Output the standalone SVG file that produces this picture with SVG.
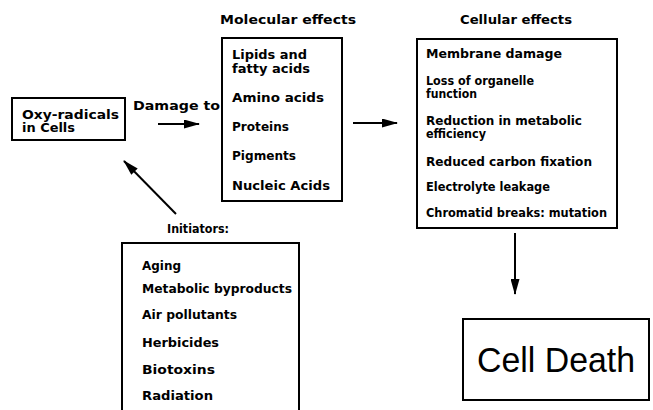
<svg xmlns="http://www.w3.org/2000/svg" width="653" height="410" viewBox="0 0 653 410">
<style>
.box{fill:none;stroke:#000;stroke-width:2}
.t{font-family:"DejaVu Sans","Liberation Sans",sans-serif;font-weight:bold;font-size:11.5px;fill:#000}
.big{font-family:"Liberation Sans",Arial,sans-serif;font-size:35px;fill:#000}
.arr{stroke:#000;stroke-width:2;fill:none;marker-end:url(#ah)}
</style>
<defs>
<marker id="ah" viewBox="0 0 16 9" refX="15" refY="4.5" markerWidth="8" markerHeight="4.5" orient="auto" markerUnits="strokeWidth">
<path d="M0,0 L16,4.5 L0,9 Z" fill="#000"/>
</marker>
</defs>
<rect width="653" height="410" fill="#fff"/>
<g id="oxy">
<rect class="box" x="12" y="98" width="113" height="42"/>
<text class="t" x="22" y="119" textLength="97" lengthAdjust="spacingAndGlyphs">Oxy-radicals</text>
<text class="t" x="22" y="132" textLength="53" lengthAdjust="spacingAndGlyphs">in Cells</text>
</g>
<g id="molecular">
<text class="t" x="220" y="24" textLength="136" lengthAdjust="spacingAndGlyphs">Molecular effects</text>
<rect class="box" x="222" y="38" width="120" height="163"/>
<text class="t" x="232" y="59" textLength="75" lengthAdjust="spacingAndGlyphs">Lipids and</text>
<text class="t" x="232" y="72.5" textLength="78" lengthAdjust="spacingAndGlyphs">fatty acids</text>
<text class="t" x="232" y="102" textLength="92" lengthAdjust="spacingAndGlyphs">Amino acids</text>
<text class="t" x="232" y="131" textLength="57" lengthAdjust="spacingAndGlyphs">Proteins</text>
<text class="t" x="232" y="160" textLength="64" lengthAdjust="spacingAndGlyphs">Pigments</text>
<text class="t" x="232" y="190" textLength="98" lengthAdjust="spacingAndGlyphs">Nucleic Acids</text>
</g>
<g id="cellular">
<text class="t" x="460" y="24" textLength="112" lengthAdjust="spacingAndGlyphs">Cellular effects</text>
<rect class="box" x="417" y="39" width="200" height="189"/>
<text class="t" x="426" y="58" textLength="136" lengthAdjust="spacingAndGlyphs">Membrane damage</text>
<text class="t" x="426" y="85" textLength="108" lengthAdjust="spacingAndGlyphs">Loss of organelle</text>
<text class="t" x="426" y="98" textLength="51" lengthAdjust="spacingAndGlyphs">function</text>
<text class="t" x="426" y="125" textLength="156" lengthAdjust="spacingAndGlyphs">Reduction in metabolic</text>
<text class="t" x="426" y="138" textLength="60" lengthAdjust="spacingAndGlyphs">efficiency</text>
<text class="t" x="426" y="166" textLength="166" lengthAdjust="spacingAndGlyphs">Reduced carbon fixation</text>
<text class="t" x="426" y="191" textLength="124" lengthAdjust="spacingAndGlyphs">Electrolyte leakage</text>
<text class="t" x="426" y="217" textLength="181" lengthAdjust="spacingAndGlyphs">Chromatid breaks: mutation</text>
</g>
<g id="initiators">
<text class="t" x="167" y="233" textLength="62" lengthAdjust="spacingAndGlyphs">Initiators:</text>
<path class="box" d="M122,412 V243 H299 V412"/>
<text class="t" x="142" y="270" textLength="39" lengthAdjust="spacingAndGlyphs">Aging</text>
<text class="t" x="142" y="293" textLength="150" lengthAdjust="spacingAndGlyphs">Metabolic byproducts</text>
<text class="t" x="142" y="319" textLength="95" lengthAdjust="spacingAndGlyphs">Air pollutants</text>
<text class="t" x="142" y="347" textLength="77" lengthAdjust="spacingAndGlyphs">Herbicides</text>
<text class="t" x="142" y="374" textLength="73" lengthAdjust="spacingAndGlyphs">Biotoxins</text>
<text class="t" x="142" y="400" textLength="71" lengthAdjust="spacingAndGlyphs">Radiation</text>
</g>
<g id="celldeath">
<rect class="box" x="463" y="319" width="186" height="81"/>
<text class="big" x="477" y="372" textLength="158" lengthAdjust="spacingAndGlyphs">Cell Death</text>
</g>
<g id="connectors">
<text class="t" x="133" y="110" textLength="87" lengthAdjust="spacingAndGlyphs">Damage to</text>
<line class="arr" x1="158" y1="124" x2="199" y2="124"/>
<line class="arr" x1="353" y1="123" x2="397" y2="123"/>
<line class="arr" x1="515" y1="233" x2="515" y2="294"/>
<line class="arr" x1="176" y1="214" x2="124" y2="161"/>
</g>
</svg>
